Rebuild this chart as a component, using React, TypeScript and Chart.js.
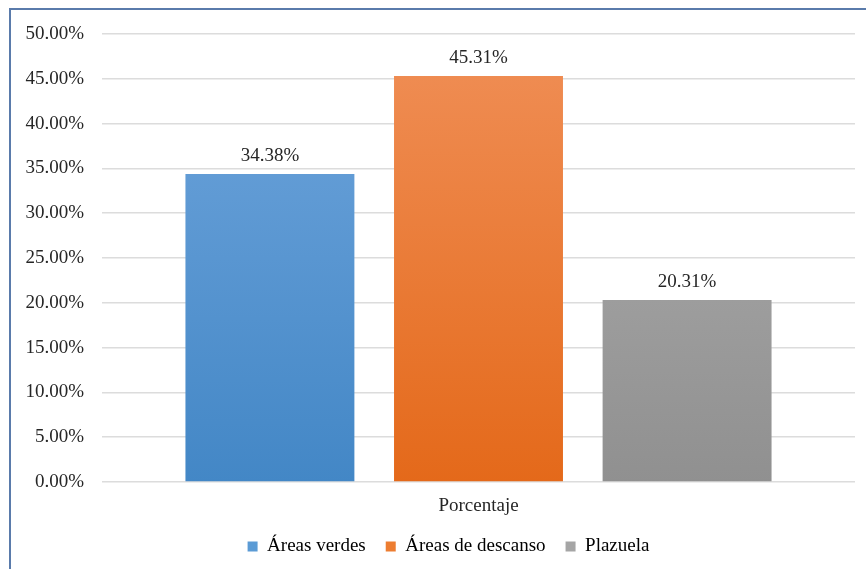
import React, { useEffect, useRef } from "react";
import { Chart, registerables } from "chart.js";

Chart.register(...registerables);

const categories = ["Porcentaje"];
const seriesNames = ["Áreas verdes", "Áreas de descanso", "Plazuela"];
const seriesValues = [[34.38], [45.31], [20.31]];
const topColors = ["#6fa5dc", "#f08f57", "#b0b0b0"];
const bottomColors = ["#4387c6", "#e4691a", "#909090"];
const legendColors = ["#5b9bd5", "#ed7d31", "#a5a5a5"];

const FONT = "'Liberation Serif', 'Times New Roman', serif";

const dataLabelPlugin = {
  id: "dataLabels",
  afterDatasetsDraw(chart: any) {
    const ctx = chart.ctx;
    ctx.save();
    ctx.font = `19px ${FONT}`;
    ctx.fillStyle = "#262626";
    ctx.textAlign = "center";
    ctx.textBaseline = "middle";
    chart.data.datasets.forEach((ds: any, i: number) => {
      const meta = chart.getDatasetMeta(i);
      meta.data.forEach((bar: any, j: number) => {
        const v = ds.data[j];
        ctx.fillText(v.toFixed(2) + "%", bar.x, bar.y - 18);
      });
    });
    ctx.restore();
  },
};

const legendShiftPlugin = {
  id: "legendShift",
  afterLayout(chart: any) {
    if (chart.legend) {
      chart.legend.left += 42;
    }
  },
};

export default function App() {
  const ref = useRef<HTMLCanvasElement>(null);
  useEffect(() => {
    if (!ref.current) return;
    const chart = new Chart(ref.current, {
      type: "bar",
      data: {
        labels: categories,
        datasets: seriesNames.map((name, i) => ({
          label: name,
          data: seriesValues[i],
          backgroundColor: (c: any) => {
            const area = c.chart.chartArea;
            if (!area) return legendColors[i];
            const g = c.chart.ctx.createLinearGradient(0, area.top, 0, area.bottom);
            g.addColorStop(0, topColors[i]);
            g.addColorStop(1, bottomColors[i]);
            return g;
          },
          borderWidth: 0,
          categoryPercentage: 0.831,
          barPercentage: 0.81,
        })),
      },
      options: {
        animation: false,
        responsive: false,
        maintainAspectRatio: false,
        layout: { padding: { top: 34, right: 11, bottom: 3, left: 0 } },
        scales: {
          y: {
            min: 0,
            max: 50,
            ticks: {
              stepSize: 5,
              padding: 18,
              color: "#262626",
              font: { family: FONT, size: 19 },
              callback: (v: any) => Number(v).toFixed(2) + "%",
            },
            grid: { color: "#dcdcdc", lineWidth: 1.5, drawTicks: false },
            border: { display: false },
            afterFit: (s: any) => {
              s.width = 102;
            },
          },
          x: {
            ticks: {
              padding: 13,
              color: "#262626",
              font: { family: FONT, size: 19 },
            },
            grid: { display: false, drawTicks: false },
            border: { display: false },
            afterFit: (s: any) => {
              s.height = 35;
            },
          },
        },
        plugins: {
          legend: {
            position: "bottom",
            labels: {
              boxWidth: 10,
              boxHeight: 10,
              padding: 20,
              color: "#262626",
              font: { family: FONT, size: 19 },
              generateLabels: () =>
                seriesNames.map((n, i) => ({
                  text: n,
                  fillStyle: legendColors[i],
                  strokeStyle: legendColors[i],
                  lineWidth: 0,
                  datasetIndex: i,
                  hidden: false,
                })),
            },
          },
          tooltip: { enabled: false },
        },
      },
      plugins: [dataLabelPlugin, legendShiftPlugin],
    } as any);
    return () => chart.destroy();
  }, []);
  return (
    <div style={{ position: "fixed", left: 0, top: 0, width: 866, height: 569, overflow: "hidden", background: "#fff" }}>
      <div
        style={{
          position: "absolute",
          left: 9,
          top: 8,
          width: 900,
          height: 600,
          borderLeft: "2px solid #5a7bab",
          borderTop: "2px solid #5a7bab",
        }}
      />
      <canvas ref={ref} width={866} height={569} style={{ position: "absolute", left: 0, top: 0, width: 866, height: 569 }} />
    </div>
  );
}
